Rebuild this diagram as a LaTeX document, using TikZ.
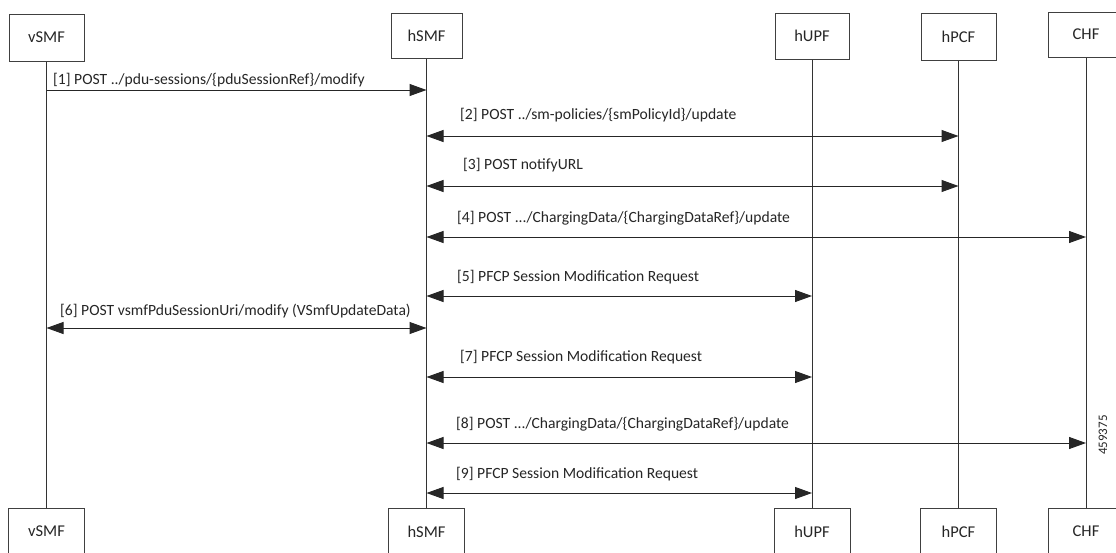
\documentclass[tikz,border=0pt]{standalone}
\usepackage{fontspec}
\setmainfont{Carlito}
\usetikzlibrary{arrows.meta}
\begin{document}
\begin{tikzpicture}[x=1pt,y=-1pt,
  every node/.style={text=black!85},
  actor/.style={draw=black!75, line width=1pt, inner sep=0pt, fill=white,
    minimum width=75pt, minimum height=47pt, font=\fontsize{16.5}{18}\selectfont},
  life/.style={draw=black!80, line width=1pt},
  tip/.tip={Triangle[length=17pt,width=12pt]},
  msg/.style={draw=black!85, line width=1pt, tip-tip},
  msgone/.style={draw=black!85, line width=1pt, -tip},
  lbl/.style={anchor=west, inner sep=0pt, font=\fontsize{15.6}{17}\selectfont}
]
\fill[white] (0,0) rectangle (1116,552);
\clip (0,0) rectangle (1116,552);
% top boxes
\node[actor] (vt) at (46.5,37.5) {vSMF};
\node[actor, minimum width=71pt, minimum height=45pt] (ht) at (426.5,35.5) {hSMF};
\node[actor, minimum width=74pt, minimum height=46pt] (ut) at (812,36) {hUPF};
\node[actor] (pt) at (958.5,37) {hPCF};
\node[actor, minimum width=76pt, minimum height=45pt] (ct) at (1086,34.5) {CHF};
% bottom boxes
\node[actor, minimum width=76pt] (vb) at (46.5,531.5) {vSMF};
\node[actor, minimum width=76pt] (hb) at (426.5,531.5) {hSMF};
\node[actor, minimum width=76pt] (ub) at (812,531.5) {hUPF};
\node[actor, minimum width=76pt] (pb) at (958.5,531.5) {hPCF};
\node[actor, minimum width=76pt] (cb) at (1086,531.5) {CHF};
% lifelines
\draw[life] (vt.south) -- (vb.north);
\draw[life] (ht.south) -- (hb.north);
\draw[life] (ut.south) -- (ub.north);
\draw[life] (pt.south) -- (pb.north);
\draw[life] (ct.south) -- (cb.north);
% messages
\draw[msgone] (vt.south |- 0,90) -- (ht.south |- 0,90);
\node[lbl] (l1) at (53,80) {[1] POST ../pdu-sessions/\{pduSessionRef\}/modify};
\draw[msg] (ht.south |- 0,136) -- (pt.south |- 0,136);
\node[lbl] (l2) at (460,115) {[2] POST ../sm-policies/\{smPolicyId\}/update};
\draw[msg] (ht.south |- 0,186) -- (pt.south |- 0,186);
\node[lbl] (l3) at (463,165) {[3] POST notifyURL};
\draw[msg] (ht.south |- 0,237) -- (ct.south |- 0,237);
\node[lbl] (l4) at (457,218) {[4] POST .../ChargingData/\{ChargingDataRef\}/update};
\draw[msg] (ht.south |- 0,296) -- (ut.south |- 0,296);
\node[lbl] (l5) at (457,277) {[5] PFCP Session Modification Request};
\draw[msg] (vt.south |- 0,328) -- (ht.south |- 0,328);
\node[lbl] (l6) at (60,311) {[6] POST vsmfPduSessionUri/modify (VSmfUpdateData)};
\draw[msg] (ht.south |- 0,377) -- (ut.south |- 0,377);
\node[lbl] (l7) at (460,357) {[7] PFCP Session Modification Request};
\draw[msg] (ht.south |- 0,443) -- (ct.south |- 0,443);
\node[lbl] (l8) at (456,424) {[8] POST .../ChargingData/\{ChargingDataRef\}/update};
\draw[msg] (ht.south |- 0,493) -- (ut.south |- 0,493);
\node[lbl] (l9) at (456,474) {[9] PFCP Session Modification Request};
% figure number
\node[rotate=90, inner sep=0pt, font=\fontsize{13}{14}\selectfont] (num) at (1103,435) {459375};
\end{tikzpicture}
\end{document}
